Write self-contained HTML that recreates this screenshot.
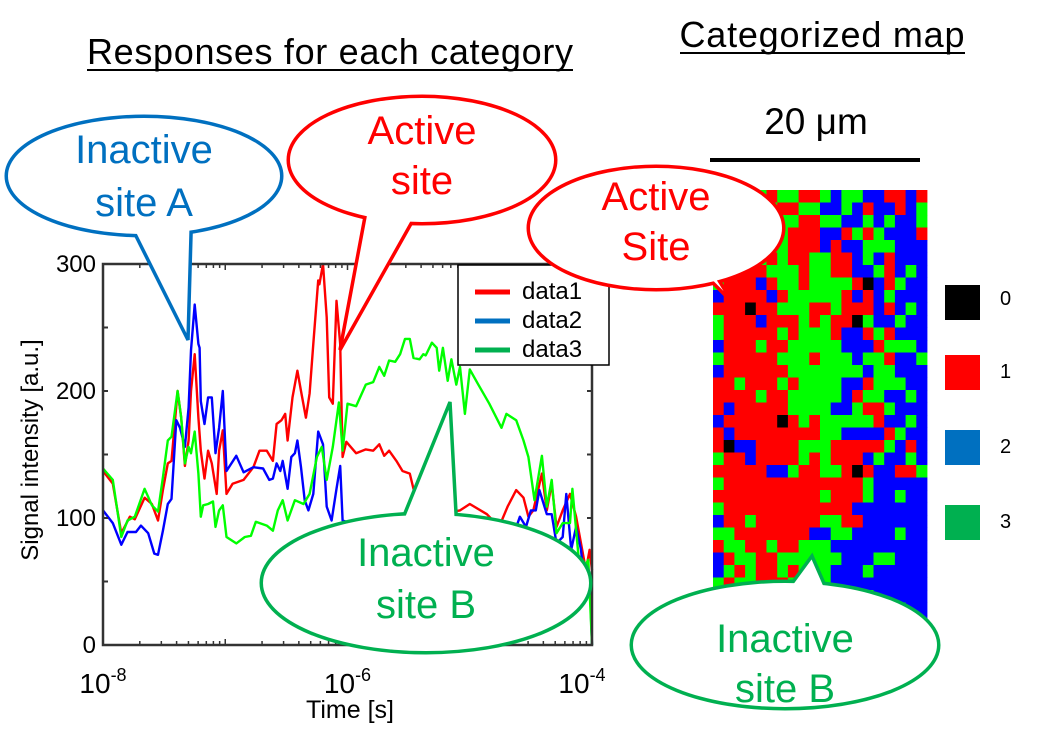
<!DOCTYPE html>
<html><head><meta charset="utf-8"><style>
html,body{margin:0;padding:0;background:#fff;}
svg{display:block;font-family:"Liberation Sans",Arial,sans-serif;}
</style></head><body>
<svg id="fig" width="1044" height="742" viewBox="0 0 1044 742">
<g id="titles">
<text x="330" y="64" font-size="36" text-anchor="middle" textLength="486">Responses for each category</text>
<line x1="87" y1="70" x2="573" y2="70" stroke="#000" stroke-width="2"/>
<text x="822" y="47" font-size="36" text-anchor="middle" textLength="285">Categorized map</text>
<line x1="680" y1="53" x2="965" y2="53" stroke="#000" stroke-width="2"/>
<text x="816" y="134" font-size="37" text-anchor="middle">20 μm</text>
<line x1="710" y1="160" x2="920" y2="160" stroke="#000" stroke-width="4"/>
</g>
<g id="map"></g>
<g id="plot"></g>
<g id="maplegend">
<rect x="945" y="285" width="35" height="35" fill="#000"/>
<text x="1000" y="305" font-size="20">0</text>
<rect x="945" y="355" width="35" height="35" fill="#ff0000"/>
<text x="1000" y="378" font-size="20">1</text>
<rect x="945" y="430" width="35" height="35" fill="#0070c0"/>
<text x="1000" y="453" font-size="20">2</text>
<rect x="945" y="505" width="35" height="35" fill="#00b050"/>
<text x="1000" y="528" font-size="20">3</text>
</g>
<g id="callouts"></g>
</svg>
<script>
const NS="http://www.w3.org/2000/svg";
const t1=[-8.00,-7.92,-7.85,-7.78,-7.74,-7.66,-7.60,-7.55,-7.51,-7.47,-7.44,-7.39,-7.36,-7.33,-7.30,-7.28,-7.25,-7.22,-7.20,-7.17,-7.14,-7.11,-7.07,-7.05,-7.02,-6.99,-6.94,-6.85,-6.77,-6.72,-6.66,-6.61,-6.58,-6.54,-6.51,-6.49,-6.45,-6.41,-6.38,-6.34,-6.31,-6.28,-6.24,-6.23,-6.20,-6.17,-6.15,-6.12,-6.09,-6.06,-6.04,-6.01,-5.93,-5.85,-5.79,-5.74,-5.70,-5.66,-5.60,-5.55,-5.49,-5.45,-5.27,-5.08,-5.00,-4.86,-4.76,-4.69,-4.62,-4.56,-4.52,-4.48,-4.41,-4.37,-4.33,-4.29,-4.24,-4.18,-4.13,-4.09,-4.05,-4.02,-4.00];
const data1=[137,127,88,101,99,116,111,98,122,143,145,200,179,141,161,200,229,179,153,131,153,143,119,153,169,119,127,130,140,153,153,145,174,177,182,161,195,216,200,179,198,237,287,284,300,258,195,190,271,237,148,160,151,154,153,158,149,153,145,137,135,119,103,106,111,103,93,109,122,116,101,106,135,106,127,93,106,119,101,80,59,75,59];
const t2=[-8.00,-7.92,-7.85,-7.80,-7.73,-7.69,-7.63,-7.58,-7.55,-7.51,-7.47,-7.44,-7.40,-7.37,-7.33,-7.30,-7.28,-7.25,-7.22,-7.21,-7.20,-7.17,-7.14,-7.11,-7.08,-7.05,-7.02,-6.99,-6.91,-6.85,-6.77,-6.69,-6.64,-6.61,-6.58,-6.55,-6.53,-6.49,-6.46,-6.43,-6.41,-6.38,-6.35,-6.32,-6.28,-6.24,-6.20,-6.17,-6.13,-6.09,-6.06,-6.04,-5.80,-5.50,-5.20,-4.90,-4.63,-4.59,-4.54,-4.50,-4.46,-4.43,-4.37,-4.33,-4.29,-4.24,-4.21,-4.17,-4.13,-4.09,-4.05,-4.02,-4.00];
const data2=[106,96,79,89,89,94,88,72,71,90,111,115,177,171,156,187,232,268,237,234,192,174,195,195,151,171,200,137,149,136,140,139,130,131,143,137,145,123,148,151,161,140,114,106,119,168,158,109,98,123,141,98,90,85,92,95,90,101,93,106,106,122,103,103,80,85,119,75,93,75,35,54,0];
const t3=[-8.00,-7.92,-7.85,-7.80,-7.74,-7.66,-7.60,-7.55,-7.51,-7.47,-7.44,-7.39,-7.36,-7.33,-7.30,-7.28,-7.25,-7.22,-7.20,-7.18,-7.14,-7.10,-7.08,-7.05,-7.02,-6.99,-6.91,-6.84,-6.79,-6.75,-6.66,-6.61,-6.57,-6.53,-6.49,-6.43,-6.36,-6.31,-6.25,-6.21,-6.17,-6.12,-6.07,-6.04,-6.00,-5.93,-5.85,-5.79,-5.74,-5.70,-5.66,-5.61,-5.57,-5.53,-5.49,-5.46,-5.41,-5.38,-5.36,-5.31,-5.27,-5.25,-5.22,-5.18,-5.15,-5.11,-5.08,-5.04,-5.00,-4.93,-4.84,-4.74,-4.70,-4.62,-4.56,-4.52,-4.47,-4.41,-4.37,-4.33,-4.29,-4.24,-4.18,-4.16,-4.11,-4.07,-4.03,-4.00];
const data3=[139,130,85,98,101,123,110,105,132,161,164,200,179,143,156,151,168,135,101,110,111,113,93,106,110,85,80,85,86,97,94,90,106,114,98,114,111,119,148,156,130,156,191,153,190,188,205,207,219,212,224,223,229,241,241,226,225,229,228,238,234,216,234,208,225,205,219,182,217,205,190,171,182,177,161,148,114,149,109,130,88,96,96,123,69,60,67,0];
const yTicks=[0,100,200,300];
const xTickExp=[-8,-6,-4];
const seriesNames=["data1","data2","data3"];
const seriesColors=["#ff0000","#0000ff","#00ff00"];
const legendColors=["#ff0000","#0070c0","#00b050"];
const mapRows=[
"RRRGGRGGRRGBGGBBRRBR","RRRRGGRRGGBBGBRBBRBG","RRRRRGGGRRGGBBGBGBBG","RRRGGGGRRRBBRGRGBBBR",
"RRGGGGGRRRBRBBGGGBBB","RRRRGRGRRGGRRBGBRBBB","GRRRRGGGRGGRRBBGRBGB","GRRRBRGGRGGGGRKBRGBB",
"BRRRRBRGGGGGRBRBGBBB","RRRKRRGGGRRGRRRBRBGB","GRRRBRRRGRGRRKGBBGBB","GRRRRRGRGGGRBBRGRBBB",
"BRRRGRRGGGGGBBBRGGGB","GRRRRRGGGRGGGBGGRBBG","BRRRRRRGGGGGGGBGGBBB","RRGRRRGRGGGGBBRGGGBB",
"RRRRGRRGGGGGBRGGBBGB","RBRRRRRGGGGBBGRRGBBB","BRRRRRKRGRGGGGGRBBGB","RBRRRRRRRRGGBBBBRGBB",
"RKBBRRRRGGGRRRRRGBRB","GRRBRRRRGRGRRRBGBBGB","RRRRRBBGRRGGRKRBBRRG","GRRRRRRRRRRRRRGBBBBB",
"RRRRRRRRRRGRRRGBBGBB","GRRRRRRRRRRRRBBBBBBB","BRRGRRRRRRGGRRBBBBBB","GGRRRRRRRBBGGBBBBGBB",
"RGGRRGRRGGGBBBBBBBBB","BRGGRRGGGGGGBBBGGBBB","BGRGRRGRGGGBBBGBBBBB","GRGGRRRGGGGBBBBBBBBB",
"BRRGRGGGGGBBBBGBBBBB","BGRRGGBGGGGBGBBBBGBB","BRGGGRGGGGGBBBGBBBBB","RGRGGGGGGGBGGBGBBBBG"];
const mapColor={R:"#ff0000",G:"#00ff00",B:"#0000ff",K:"#000000"};

function mk(tag,attrs,parent){const e=document.createElementNS(NS,tag);for(const k in attrs)e.setAttribute(k,attrs[k]);parent.appendChild(e);return e;}
// map
const mapG=document.getElementById('map');
const MX=713,MY=190,MW=214,MH=450;
const cw=MW/mapRows[0].length,ch=MH/mapRows.length;
mapRows.forEach((row,r)=>{for(let c=0;c<row.length;c++){
 const e=mk('rect',{x:(MX+c*cw).toFixed(2),y:(MY+r*ch).toFixed(2),width:(cw+0.4).toFixed(2),height:(ch+0.4).toFixed(2),fill:mapColor[row[c]]},mapG);
 
 
}});
// plot
const P=document.getElementById('plot');
const L=103,R=592,T=264,B=645;
const xs=lt=>L+(lt+8)*(R-L)/4;
const ys=v=>B-v*(B-T)/300;
[[t1,data1],[t2,data2],[t3,data3]].forEach((s,i)=>{
 const d=s[0].map((t,j)=>(j?'L':'M')+xs(t).toFixed(1)+','+ys(s[1][j]).toFixed(1)).join(' ');
 const e=mk('path',{d:d,fill:'none',stroke:seriesColors[i],'stroke-width':2.4,'stroke-linejoin':'round'},P);
 
 
});
const fr=mk('rect',{x:L,y:T,width:R-L,height:B-T,fill:'none',stroke:'#333','stroke-width':2.5},P);


for(let v=0;v<=300;v+=50){
 mk('line',{x1:L,x2:L+5,y1:ys(v),y2:ys(v),stroke:'#333','stroke-width':2},P);
 mk('line',{x1:R,x2:R-5,y1:ys(v),y2:ys(v),stroke:'#333','stroke-width':2},P);
}
for(let dec=-8;dec<-4;dec++){for(let m=2;m<=10;m++){
 const x=xs(dec+Math.log10(m));const len=(m===10)?6:4;
 mk('line',{x1:x,x2:x,y1:B,y2:B-len,stroke:'#333','stroke-width':1.5},P);
 mk('line',{x1:x,x2:x,y1:T,y2:T+len,stroke:'#333','stroke-width':1.5},P);
}}
yTicks.forEach(v=>{
 const e=mk('text',{x:L-7,y:ys(v)+8,'font-size':24,'text-anchor':'end'},P);e.textContent=v;
 
 
});
xTickExp.forEach(p=>{
 const e=mk('text',{x:xs(p)+(p===-8?0:p===-4?-10:0),y:693,'font-size':28,'text-anchor':'middle'},P);
 e.innerHTML='10<tspan font-size="18" dy="-12">'+p+'</tspan>';
 
 
});
let e=mk('text',{x:350,y:718,'font-size':25,'text-anchor':'middle'},P);e.textContent='Time [s]';


e=mk('text',{x:0,y:0,'font-size':24,'text-anchor':'middle',transform:'translate(38,450) rotate(-90)'},P);e.textContent='Signal intensity [a.u.]';


// legend
const lg=mk('g',{},P);


mk('rect',{x:458,y:265,width:151,height:100,fill:'#fff',stroke:'#000','stroke-width':1.5},lg);
seriesNames.forEach((n,i)=>{
 const y=290+i*29;
 const ln=mk('line',{x1:475,x2:510,y1:y+2,y2:y+2,stroke:legendColors[i],'stroke-width':5},lg);
 
 
 const t=mk('text',{x:522,y:y+9,'font-size':24},lg);t.textContent=n;
 
 
});
// callouts
const C=document.getElementById('callouts');
function callout(name,cx,cy,rx,ry,tail,col,lines,ly,fs){
 const g=mk('g',{},C);
 
 
 const pts=tail.map(p=>p.join(',')).join(' ');
 mk('ellipse',{cx,cy,rx,ry,fill:'#fff',stroke:col,'stroke-width':7},g);
 mk('polygon',{points:pts,fill:'#fff',stroke:col,'stroke-width':3.5,'stroke-linejoin':'miter'},g);
 mk('ellipse',{cx,cy,rx,ry,fill:'#fff',stroke:'none'},g);
 lines.forEach((s,i)=>{const t=mk('text',{x:cx,y:ly[i],'font-size':fs,'text-anchor':'middle',fill:col},g);t.textContent=s;});
}
callout('callout-inactive-site-a',144,176,136,58,[[118,200],[188,340],[192,200]],'#0070c0',['Inactive','site A'],[163,216],40);
callout('callout-active-site',422,160,132,62,[[370,190],[340,350],[430,190]],'#ff0000',['Active','site'],[144,194],40);
callout('callout-inactive-site-b',426,583,163,68,[[390,550],[450,402],[458,550]],'#00b050',['Inactive','site B'],[566,618],40);
callout('callout-map-active-site',656,228,126,60,[[700,250],[733,303],[690,260]],'#ff0000',['Active','Site'],[210,260],40);
callout('callout-map-inactive-site-b',785,645,152,62,[[765,620],[812,556],[840,620]],'#00b050',['Inactive','site B'],[652,702],40);
</script>
</body></html>
